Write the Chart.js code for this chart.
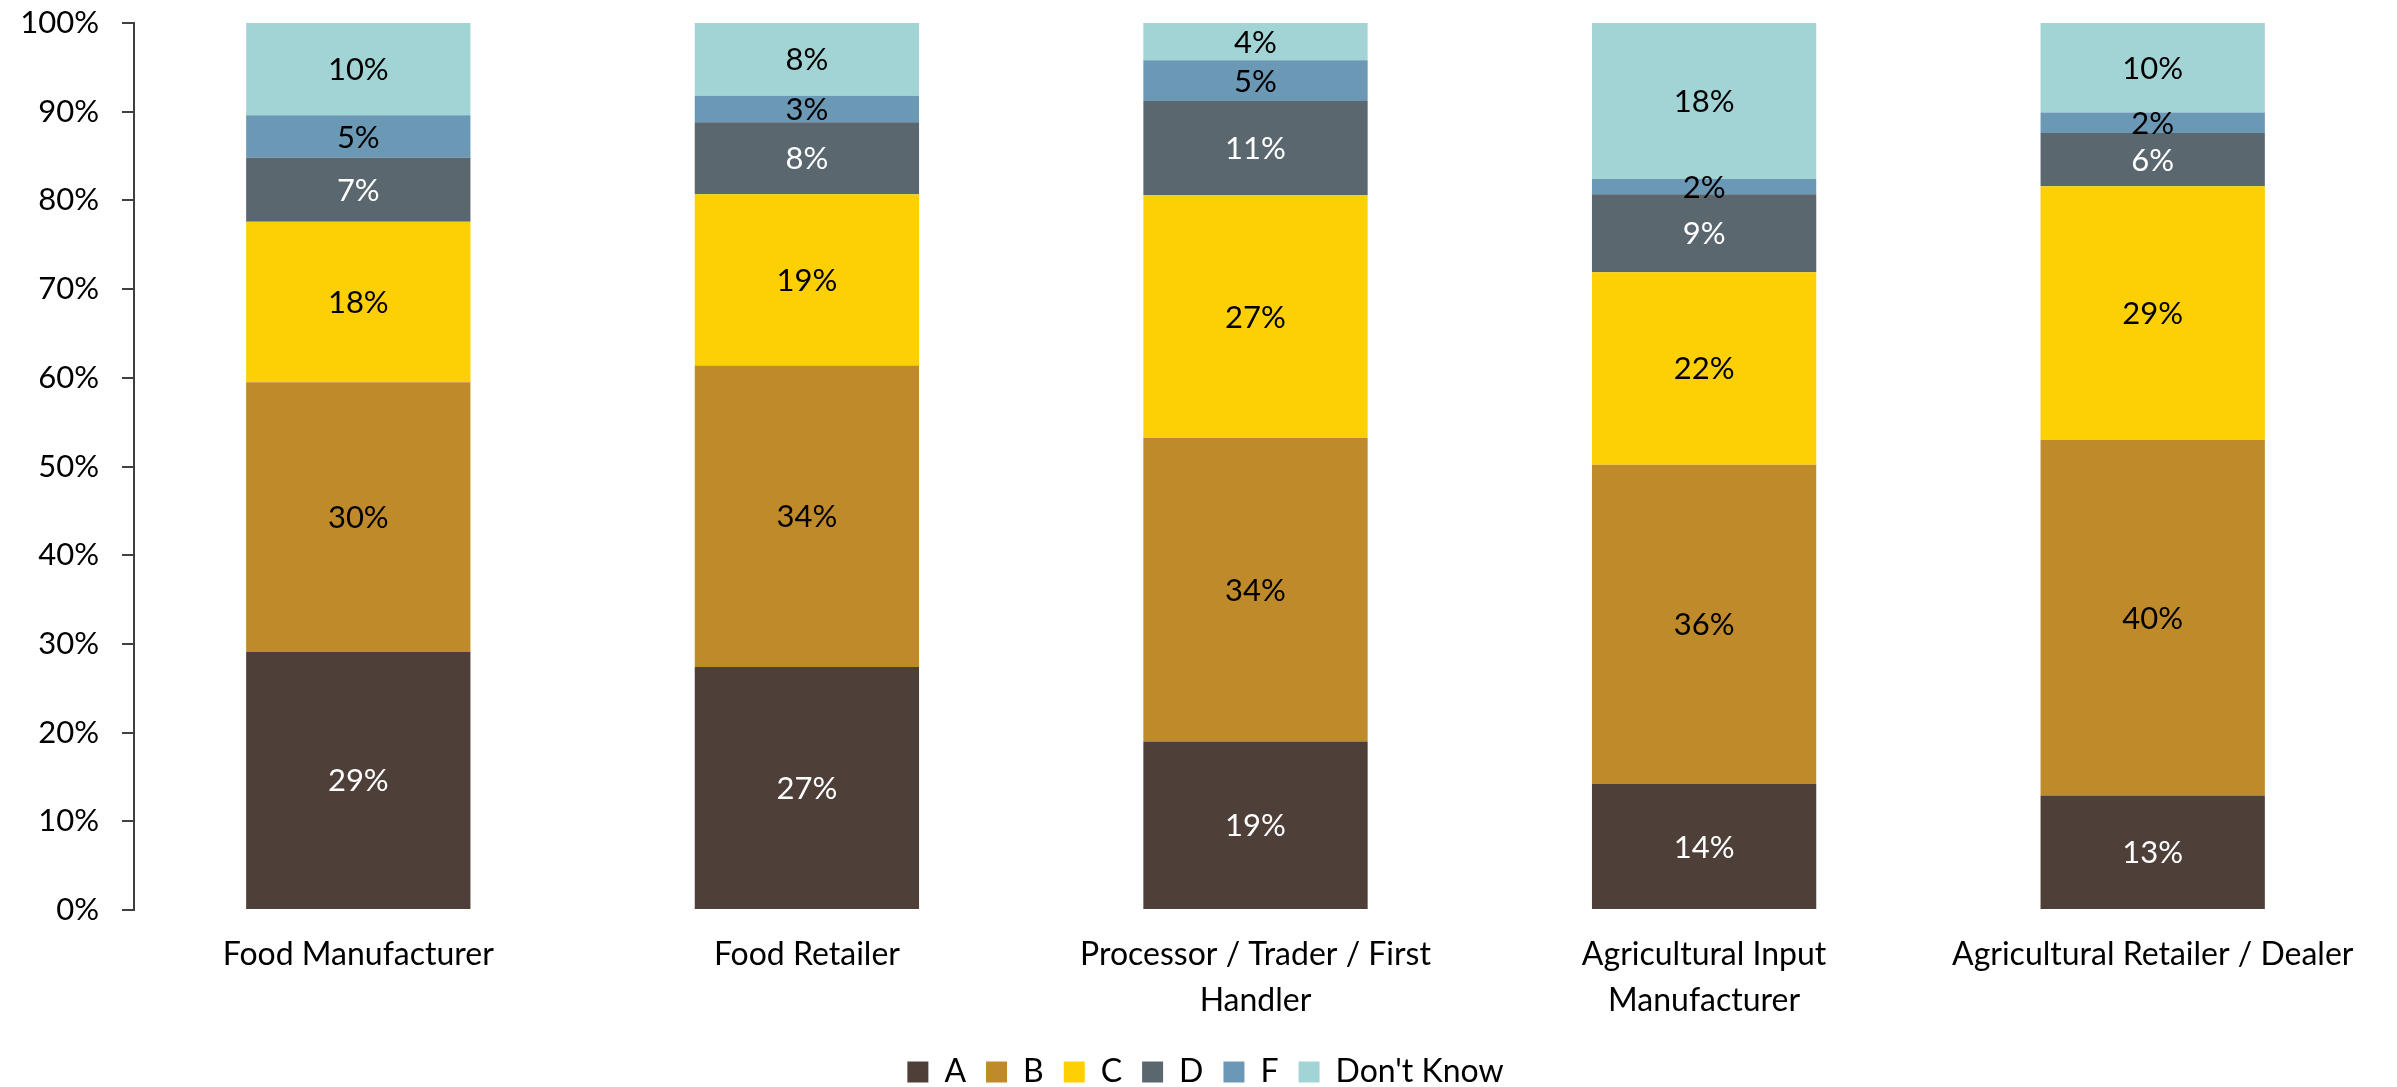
<!DOCTYPE html>
<html>
<head>
<meta charset="utf-8">
<script src="https://cdn.jsdelivr.net/npm/chart.js@4.4.1/dist/chart.umd.min.js"></script>
<style>
  html, body { margin: 0; padding: 0; background: #fff; overflow: hidden; }
  #wrap { width: 2397px; height: 1087px; }
</style>
</head>
<body>
<div id="wrap"><canvas id="shareChart"></canvas></div>
<script>
// respondent groups, multi-line where the label wraps
const categories = [
  ["Food Manufacturer"],
  ["Food Retailer"],
  ["Processor / Trader / First", "Handler"],
  ["Agricultural Input", "Manufacturer"],
  ["Agricultural Retailer / Dealer"]
];

// share of answers per group, in %
const seriesA  = [29.1, 27.4, 19.0, 14.2, 12.9];
const seriesB  = [30.4, 34.0, 34.2, 36.0, 40.1];
const seriesC  = [18.1, 19.3, 27.4, 21.7, 28.6];
const seriesD  = [7.2, 8.1, 10.6, 8.8, 6.0];
const seriesF  = [4.8, 3.0, 4.6, 1.7, 2.3];
const seriesDK = [10.4, 8.2, 4.2, 17.6, 10.1];

const seriesNames = ["A", "B", "C", "D", "F", "Don't Know"];
const yTicks = [0, 10, 20, 30, 40, 50, 60, 70, 80, 90, 100];

const colors = ["#4e3f38", "#bf8b2a", "#fdcf05", "#5a676f", "#6b98b5", "#a3d4d5"];
const labelColors = ["#ffffff", "#000000", "#000000", "#ffffff", "#000000", "#000000"];

const allSeries = [seriesA, seriesB, seriesC, seriesD, seriesF, seriesDK];

// writes the rounded % in the middle of each segment
const segmentLabels = {
  id: "segmentLabels",
  afterDatasetsDraw(chart) {
    const ctx = chart.ctx;
    ctx.save();
    ctx.font = "31px Lato";
    ctx.textAlign = "center";
    ctx.textBaseline = "middle";
    chart.data.datasets.forEach((ds, i) => {
      const meta = chart.getDatasetMeta(i);
      ctx.fillStyle = labelColors[i];
      meta.data.forEach((bar, j) => {
        ctx.fillText(Math.round(ds.data[j]) + "%", bar.x, (bar.y + bar.base) / 2 + 1);
      });
    });
    ctx.restore();
  }
};

// legend sits centred on the whole canvas, not just the plot width
const legendShift = {
  id: "legendShift",
  afterLayout(chart) {
    chart.legend.left += 17;
    chart.legend.right += 17;
  }
};

function draw() {
  Chart.defaults.font.family = "Lato";
  Chart.defaults.color = "#000";

  new Chart(document.getElementById("shareChart"), {
    type: "bar",
    data: {
      labels: categories,
      datasets: allSeries.map((vals, i) => ({
        label: seriesNames[i],
        data: vals,
        backgroundColor: colors[i],
        borderWidth: 0,
        barPercentage: 0.5,
        categoryPercentage: 1
      }))
    },
    options: {
      responsive: true,
      maintainAspectRatio: false,
      animation: false,
      layout: { padding: { left: 0, right: 20, top: 23, bottom: -11 } },
      plugins: {
        tooltip: { enabled: false },
        legend: {
          position: "bottom",
          labels: {
            boxWidth: 21,
            boxHeight: 21,
            padding: 20,
            font: { size: 32 },
            color: "#000"
          }
        }
      },
      scales: {
        x: {
          stacked: true,
          grid: { display: false, drawTicks: false },
          border: { display: false },
          ticks: {
            padding: 22,
            maxRotation: 0,
            autoSkip: false,
            font: { size: 32, lineHeight: 1.44 }
          },
          afterFit: (scale) => { scale.height = 126; }
        },
        y: {
          stacked: true,
          min: 0,
          max: 100,
          afterBuildTicks: (axis) => { axis.ticks = yTicks.map(v => ({ value: v })); },
          grid: { drawOnChartArea: false, drawTicks: true, tickLength: 12, color: "#404040", lineWidth: 2 },
          border: { display: true, color: "#404040", width: 2 },
          ticks: {
            padding: 23,
            font: { size: 31 },
            callback: (v) => v + "%"
          },
          afterFit: (scale) => {
            scale.width = 134;
            scale.paddingTop = 0;
            scale.paddingBottom = 0;
          }
        }
      }
    },
    plugins: [segmentLabels, legendShift]
  });
}

document.fonts.load("32px Lato").then(draw, draw);
</script>
</body>
</html>
